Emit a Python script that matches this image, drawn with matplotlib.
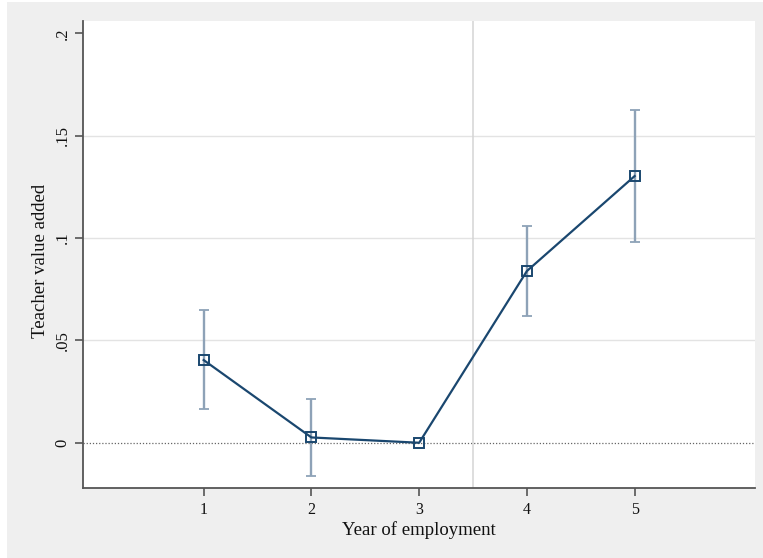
import matplotlib
matplotlib.use("Agg")
import matplotlib.pyplot as plt
from matplotlib.patches import Rectangle

years = [1, 2, 3, 4, 5]
estimates = [0.0404, 0.0026, 0.0, 0.0839, 0.1303]
ci_low = [0.0165, -0.0163, None, 0.0619, 0.0980]
ci_high = [0.0647, 0.0213, None, 0.1060, 0.1624]
ytick_vals = [0, 0.05, 0.1, 0.15, 0.2]
ytick_labels = ["0", ".05", ".1", ".15", ".2"]
grid_vals = [0.05, 0.1, 0.15]
vline_x = 3.5

plt.rcParams['font.family'] = ['Liberation Serif', 'DejaVu Serif']

fig = plt.figure(figsize=(7.63, 5.58), dpi=100)
fig.patch.set_facecolor('white')
bg = Rectangle((7/763, 0), 1 - 7/763, 1 - 2/558, transform=fig.transFigure,
               facecolor='#efefef', edgecolor='none', zorder=-10)
fig.add_artist(bg)

ax = fig.add_axes([83/763, 70/558, 672/763, 467.3/558])
ax.set_zorder(1)
ax.set_facecolor('white')

for g in grid_vals:
    ax.axhline(g, color='#e3e3e3', lw=1.0, zorder=1)
ax.axhline(0, color='#666666', lw=0.9, linestyle=(0, (1, 1.5)), zorder=1)
ax.axvline(vline_x, color='#d4d4d4', lw=1.1, zorder=1)

ex, elo, ehi = [], [], []
for x, lo, hi in zip(years, ci_low, ci_high):
    if lo is not None:
        ex.append(x); elo.append(lo); ehi.append(hi)
mid = [(l + h) / 2 for l, h in zip(elo, ehi)]
ax.errorbar(ex, mid, yerr=[[m - l for m, l in zip(mid, elo)], [h - m for h, m in zip(ehi, mid)]],
            fmt='none', ecolor='#8ea2b7', elinewidth=1.7, capsize=3.4, capthick=1.3, zorder=2)

ax.plot(years, estimates, color='#1a476f', lw=1.6, marker='s', markersize=7.5,
        markerfacecolor='none', markeredgecolor='#1a476f', markeredgewidth=1.4, zorder=3)

ax.set_xlim(-0.12, 6.117)
ax.set_ylim(-0.0221, 0.2062)
ax.set_xticks(years)
ax.set_xticklabels([str(y) for y in years], fontsize=11.5)
ax.set_yticks(ytick_vals)
ax.set_yticklabels(ytick_labels, fontsize=12, rotation=90, va='center')

for s in ['top', 'right']:
    ax.spines[s].set_visible(False)
for s in ['left', 'bottom']:
    ax.spines[s].set_color('#555555')
    ax.spines[s].set_linewidth(1.3)
ax.tick_params(axis='both', direction='out', length=6, width=1.2, color='#555555', labelcolor='#111111')
ax.tick_params(axis='y', pad=3)
ax.tick_params(axis='x', pad=4)

ax.set_xlabel('Year of employment', fontsize=13.5, labelpad=2, color='#111111')
ax.set_ylabel('Teacher value added', fontsize=13.5, color='#111111')
ax.yaxis.set_label_coords(-0.05, 0.485)

fig.savefig('out.png', dpi=100, facecolor=fig.get_facecolor())
